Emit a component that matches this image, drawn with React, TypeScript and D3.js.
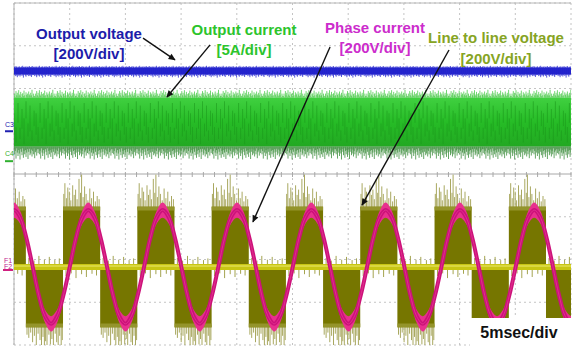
import React from 'react';
import * as d3 from 'd3';

// scope settings
const MS_PER_DIV = 5;
const X_DIVS = 10;
const Y_DIVS = 8;

// channels: C3 output voltage, C4 output current, F1 phase current, F2 line-line voltage
const channelNames = ['C3', 'C4', 'F1', 'F2'];
const channelScale = [200, 5, 200, 200];          // units per div
const channelOffsetDiv = [1.0, 0.3, -2.175, -2.175];

const traceLabels = ['Output voltage', 'Output current', 'Phase current', 'Line to line voltage'];
const traceScales = ['[200V/div]', '[5A/div]', '[200V/div]', '[200V/div]'];

// output voltage (V) and ripple seen on the trace
const outputVoltageV = 282;
const outVoltHiV = [3, 6, 1, 8, 4, 0, 5, 2, 7, 3, 1, 6, 2, 9, 4, 0, 5, 3, 7, 1, 4, 6, 2, 8, 3];
const outVoltLoV = [4, 2, 9, 3, 6, 14, 2, 7, 4, 11, 5, 1, 8, 3, 16, 4, 2, 6, 12, 3, 5, 1, 9, 6, 2, 7, 13, 3, 5];

// output current (A): dense band plus spikes
const outCurrentHighA = 7.4;
const outCurrentLowA = 1.7;
const outCurTopA = [0.2, 0.5, 0.1, 0.8, 0.3, 0.6, 0.15, 0.9, 0.4, 0.25, 0.7, 0.1, 0.45, 0.55, 0.2, 0.85, 0.3, 0.05, 0.65, 0.35, 0.5, 0.15, 0.75, 0.4, 0.2, 0.6, 0.3, 0.95, 0.1, 0.5, 0.25];
const outCurBotA = [0.3, 0.9, 0.5, 1.4, 0.2, 0.7, 1.1, 0.4, 0.8, 1.5, 0.3, 0.6, 1.0, 0.2, 1.3, 0.5, 0.9, 0.4, 1.2, 0.7, 0.3, 1.45, 0.6, 0.25, 1.0, 0.8, 0.35, 1.15, 0.5, 0.9, 0.2, 1.35, 0.65, 0.45, 1.05, 0.3, 0.75];
const outCurStreakA = [[3.1, 5.6], [2.2, 4.0], [4.5, 6.8], [2.6, 3.9], [3.8, 6.1], [2.0, 5.0], [5.0, 7.0], [2.9, 4.4], [3.5, 6.5], [2.4, 3.6], [4.1, 5.9]];

// phase current: times of positive peaks (ms) and one period
const currentPeakTimesMs = [-6.67, 0, 6.67, 13.34, 20.02, 26.69, 33.36, 40.03, 46.7];
const currentPeriodMs = 6.67;
const phaseCurrentShape = [266, 232, 136, 4, -132, -230, -266, -228, -130, 0, 134, 230];
const phaseCurrentBand = [36, 30, 18, 10, 18, 30, 36, 30, 18, 10, 18, 30];

// line-to-line voltage: start of each positive block (ms), dc link level, spikes
const llvPositiveStartsMs = [-2.27, 4.4, 11.07, 17.74, 24.41, 31.08, 37.75, 44.42];
const llvHalfMs = 3.335;
const llvLevelV = 282;
const llvSpikes = [[0.02, 60], [0.05, 110], [0.09, 40], [0.13, 90], [0.17, 70], [0.21, 30], [0.26, 100], [0.3, 55], [0.34, 80], [0.38, 35], [0.43, 130], [0.47, 65], [0.5, 150], [0.54, 45], [0.58, 95], [0.62, 60], [0.67, 30], [0.72, 85], [0.77, 40], [0.82, 70], [0.87, 25], [0.92, 50], [0.97, 35]];
const llvZeroSpikes = [[0.08, 30], [0.22, 18], [0.35, 40], [0.5, 22], [0.63, 35], [0.78, 20], [0.9, 28]];

export default function App() {
  const x = d3.scaleLinear().domain([0, MS_PER_DIV * X_DIVS]).range([14, 571]);
  const y = d3.scaleLinear().domain([-Y_DIVS / 2, Y_DIVS / 2]).range([345, 3]);
  const yv = (ch: number, v: number) => y(channelOffsetDiv[ch] + v / channelScale[ch]);

  const cols = d3.range(0, 50.01, 0.06);

  // output voltage
  const blueSpikes = cols.map((t, i) =>
    `M${x(t).toFixed(1)},${yv(0, outputVoltageV + 15 + outVoltHiV[i % outVoltHiV.length]).toFixed(1)}V${yv(0, outputVoltageV - 15 - outVoltLoV[i % outVoltLoV.length]).toFixed(1)}`).join('');

  // output current
  const greenTop = cols.map((t, i) =>
    `M${x(t).toFixed(1)},${yv(1, outCurrentHighA).toFixed(1)}V${yv(1, outCurrentHighA + outCurTopA[i % outCurTopA.length]).toFixed(1)}`).join('');
  const greenBot = cols.map((t, i) =>
    `M${x(t).toFixed(1)},${yv(1, outCurrentLowA).toFixed(1)}V${yv(1, outCurrentLowA - outCurBotA[i % outCurBotA.length]).toFixed(1)}`).join('');
  const greenStreaks = cols.filter((_, i) => i % 3 === 0).map((t, i) => {
    const [lo, hi] = outCurStreakA[i % outCurStreakA.length];
    return `M${x(t).toFixed(1)},${yv(1, hi).toFixed(1)}V${yv(1, lo).toFixed(1)}`;
  }).join('');

  // phase current
  const curPts: { t: number; v: number; b: number }[] = [];
  currentPeakTimesMs.forEach(p => {
    phaseCurrentShape.forEach((v, k) => {
      curPts.push({ t: p + (k * currentPeriodMs) / phaseCurrentShape.length, v, b: phaseCurrentBand[k] });
    });
  });
  const curLine = d3.line<{ t: number; v: number }>()
    .x(d => x(d.t)).y(d => yv(2, d.v)).curve(d3.curveCatmullRom)(curPts);
  const curArea = d3.area<{ t: number; v: number; b: number }>()
    .x(d => x(d.t)).y0(d => yv(2, d.v - d.b)).y1(d => yv(2, d.v + d.b)).curve(d3.curveCatmullRom)(curPts);

  // line-line voltage blocks
  const blocks: { s: number; e: number; sign: number }[] = [];
  llvPositiveStartsMs.forEach(s => {
    blocks.push({ s, e: s + llvHalfMs, sign: 1 });
    blocks.push({ s: s + llvHalfMs, e: s + 2 * llvHalfMs, sign: -1 });
  });
  const spikePath = blocks.map(b => llvSpikes.map(([f, h]) => {
    const ff = b.sign > 0 ? f : 1 - f;
    const t = b.s + ff * (b.e - b.s);
    return `M${x(t).toFixed(1)},${yv(3, b.sign * (llvLevelV - 10)).toFixed(1)}V${yv(3, b.sign * (llvLevelV + h)).toFixed(1)}`;
  }).join('')).join('');
  const zeroSpikePath = blocks.map(b => llvZeroSpikes.map(([f, h]) => {
    const t = b.s + f * (b.e - b.s);
    return `M${x(t).toFixed(1)},${yv(3, 0).toFixed(1)}V${yv(3, -b.sign * (12 + h)).toFixed(1)}`;
  }).join('')).join('');

  const gridX = d3.range(0, X_DIVS + 1);
  const gridY = d3.range(-Y_DIVS / 2, Y_DIVS / 2 + 1);
  const minorTicks = d3.range(0, X_DIVS * 5 + 1);

  const labelLayout = [
    { cx: 89, y1: 39, y2: 59, color: '#1c1caa' },
    { cx: 244, y1: 35, y2: 55, color: '#2cc42c' },
    { cx: 375, y1: 33, y2: 53, color: '#cc2ccc' },
    { cx: 496, y1: 43, y2: 64, color: '#86a424' },
  ];
  // arrows in (ms, div)
  const arrows = [
    [11.58, 3.18, 14.45, 2.67],
    [17.6, 3.02, 13.73, 1.8],
    [28.37, 2.97, 21.45, -1.12],
    [39.05, 2.9, 31.24, -0.73],
  ];

  const left = x(0), right = x(50), top = y(4), bottom = y(-4);

  return (
    <svg width={573} height={347} style={{ position: 'fixed', left: 0, top: 0, background: '#fff' }}
      fontFamily="'Liberation Sans', Arial, sans-serif">
      <defs>
        <clipPath id="plot"><rect x={left} y={top} width={right - left} height={bottom - top} /></clipPath>
        <linearGradient id="grn" x1="0" x2="0" y1="0" y2="1">
          <stop offset="0" stopColor="#40d040" />
          <stop offset="0.5" stopColor="#26bc26" />
          <stop offset="1" stopColor="#22a822" />
        </linearGradient>
        <marker id="ah" viewBox="0 0 10 10" refX="9" refY="5" markerUnits="userSpaceOnUse"
          markerWidth="9" markerHeight="7" orient="auto">
          <path d="M0,0.5L10,5L0,9.5z" fill="#111" />
        </marker>
      </defs>
      <rect width={573} height={347} fill="#fff" />

      {/* grid */}
      <g stroke="#c4c4c4" strokeWidth={1}>
        {gridX.map(i => (
          <line key={'gx' + i} x1={x(i * MS_PER_DIV)} x2={x(i * MS_PER_DIV)} y1={top} y2={bottom}
            strokeDasharray="2,3" />
        ))}
        {gridY.map(d => (
          <line key={'gy' + d} x1={left} x2={right} y1={y(d)} y2={y(d)}
            strokeDasharray={d === 0 ? undefined : '2,3'} stroke={d === 0 ? '#a8a8a8' : undefined} />
        ))}
        {minorTicks.map(i => (
          <line key={'mt' + i} x1={x(i)} x2={x(i)} y1={y(0) - 2} y2={y(0) + 3} stroke="#a8a8a8" />
        ))}
        <line x1={left} x2={right} y1={top} y2={top} stroke="#b8b8b8" />
        <line x1={left} x2={left} y1={top} y2={bottom} stroke="#b0b0b0" />
      </g>

      <g clipPath="url(#plot)">
        {/* line-to-line voltage */}
        <path d={spikePath} stroke="#a9a860" strokeWidth={1} />
        {blocks.map((b, i) => (
          <rect key={'b' + i} x={x(b.s)} width={x(b.e) - x(b.s)}
            y={b.sign > 0 ? yv(3, llvLevelV) : yv(3, 0)}
            height={Math.abs(yv(3, llvLevelV) - yv(3, 0))} fill="#767600" />
        ))}
        {blocks.map((b, i) => (
          <line key={'be' + i} x1={x(b.s)} x2={x(b.e)} y1={yv(3, b.sign * (llvLevelV - 8))}
            y2={yv(3, b.sign * (llvLevelV - 8))} stroke="#9c9c36" strokeWidth={4} opacity={0.8} />
        ))}
        <path d={zeroSpikePath} stroke="#a4a450" strokeWidth={1} />
        <line x1={left} x2={right} y1={yv(3, 0)} y2={yv(3, 0)} stroke="#c8c614" strokeWidth={6} />
        <line x1={left} x2={right} y1={yv(3, 0) - 1} y2={yv(3, 0) - 1} stroke="#e0de50" strokeWidth={1.5} />

        {/* phase current */}
        <path d={curArea ?? ''} fill="#e8308e" />
        <path d={curLine ?? ''} fill="none" stroke="#cc127a" strokeWidth={4} />
        <path d={curLine ?? ''} fill="none" stroke="#e83a94" strokeWidth={1} opacity={0.7} />

        {/* output current */}
        <rect x={left} width={right - left} y={yv(1, outCurrentHighA)}
          height={yv(1, outCurrentLowA) - yv(1, outCurrentHighA)} fill="url(#grn)" />
        <path d={greenStreaks} stroke="#1c981c" strokeWidth={0.8} opacity={0.7} />
        <path d={greenTop} stroke="#4ccc4c" strokeWidth={0.8} />
        <path d={greenBot} stroke="#3f8f3f" strokeWidth={0.8} />

        {/* output voltage */}
        <rect x={left} width={right - left} y={yv(0, outputVoltageV + 15)}
          height={yv(0, outputVoltageV - 15) - yv(0, outputVoltageV + 15)} fill="#1010bc" />
        <path d={blueSpikes} stroke="#2a2ad0" strokeWidth={0.8} />
      </g>

      {/* channel markers */}
      <g fontSize={7}>
        <text x={5} y={127} fill="#2020b0">{channelNames[0]}</text>
        <line x1={5} x2={13} y1={y(channelOffsetDiv[0])} y2={y(channelOffsetDiv[0])} stroke="#2020b0" strokeWidth={2} />
        <text x={5} y={156} fill="#30b030">{channelNames[1]}</text>
        <line x1={5} x2={13} y1={y(channelOffsetDiv[1])} y2={y(channelOffsetDiv[1])} stroke="#30b030" strokeWidth={2} />
        <text x={4} y={263} fill="#c02890">{channelNames[2]}</text>
        <text x={4} y={269} fill="#c02890">{channelNames[3]}</text>
        <line x1={3} x2={13} y1={y(channelOffsetDiv[2]) + 3} y2={y(channelOffsetDiv[2]) + 3} stroke="#d02080" strokeWidth={2} />
      </g>

      {/* annotations */}
      <g fontWeight="bold" fontSize={15} textAnchor="middle">
        {labelLayout.map((l, i) => (
          <g key={'lab' + i} fill={l.color}>
            <text x={l.cx} y={l.y1}>{traceLabels[i]}</text>
            <text x={l.cx} y={l.y2}>{traceScales[i]}</text>
          </g>
        ))}
      </g>
      {arrows.map((a, i) => (
        <line key={'ar' + i} x1={x(a[0])} y1={y(a[1])} x2={x(a[2])} y2={y(a[3])}
          stroke="#111" strokeWidth={1.4} markerEnd="url(#ah)" />
      ))}

      <rect x={470} y={318} width={103} height={29} fill="#fff" />
      <text x={519} y={338} textAnchor="middle" fontWeight="bold" fontSize={16} fill="#111">5msec/div</text>
    </svg>
  );
}
